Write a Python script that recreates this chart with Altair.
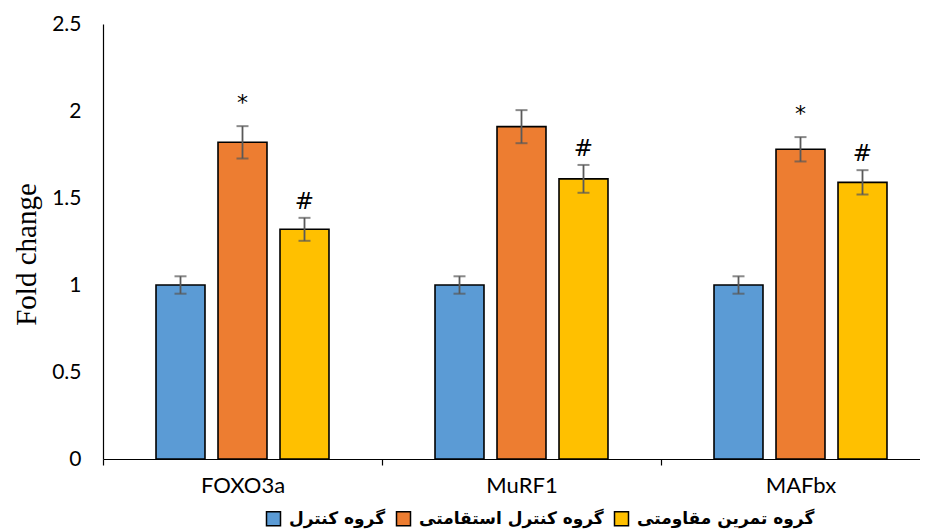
import altair as alt
import pandas as pd

genes = ["FOXO3a", "MuRF1", "MAFbx"]
groups = ["گروه کنترل", "گروه کنترل استقامتی", "گروه تمرین مقاومتی"]
colors = ["#5B9BD5", "#ED7D31", "#FFC000"]

control_mean = [1.0, 1.0, 1.0]
control_se = [0.05, 0.05, 0.05]
endurance_mean = [1.82, 1.91, 1.78]
endurance_se = [0.093, 0.095, 0.07]
resistance_mean = [1.32, 1.61, 1.59]
resistance_se = [0.066, 0.08, 0.07]
control_sig = ["", "", ""]
endurance_sig = ["*", "", "*"]
resistance_sig = ["#", "#", "#"]

y_ticks = [0, 0.5, 1, 1.5, 2, 2.5]

rows = []
for grp, means, ses, sigs in zip(
    groups,
    [control_mean, endurance_mean, resistance_mean],
    [control_se, endurance_se, resistance_se],
    [control_sig, endurance_sig, resistance_sig],
):
    for gene, m, s, sig in zip(genes, means, ses, sigs):
        rows.append(dict(gene=gene, group=grp, mean=m, lo=m - s, hi=m + s, sig=sig))
df = pd.DataFrame(rows)

x = alt.X(
    "gene:N",
    sort=genes,
    scale=alt.Scale(range=[0, 837], paddingInner=0, paddingOuter=0),
    axis=alt.Axis(
        title=None, labelAngle=0, tickBand="extent", domainColor="black",
        tickColor="black", tickSize=6, labelFont="Lato", labelFontSize=22,
        labelColor="black", labelPadding=10, domainWidth=1.2, tickWidth=1.2,
    ),
)
xo = alt.XOffset("group:N", sort=groups, scale=alt.Scale(paddingInner=0.21, paddingOuter=0.855))

base = alt.Chart(df)

bars = base.mark_bar(stroke="black", strokeWidth=1.6).encode(
    x=x,
    xOffset=xo,
    y=alt.Y(
        "mean:Q",
        scale=alt.Scale(domain=[0, 2.5], nice=False),
        axis=alt.Axis(
            values=y_ticks, format="~g", ticks=False, grid=False,
            domainColor="black", domainWidth=1.2, labelFont="Lato",
            labelFontSize=21, labelColor="black", labelPadding=22,
            title="Fold change", titleFont="Liberation Serif", titleFontSize=29,
            titleFontWeight="normal", titleColor="black", titlePadding=10,
            titleY=230,
        ),
    ),
    color=alt.Color(
        "group:N",
        scale=alt.Scale(domain=groups, range=colors),
        legend=alt.Legend(
            title=None, orient="none", legendX=162, legendY=486,
            direction="horizontal", symbolType="square", symbolSize=196,
            symbolStrokeColor="black", symbolStrokeWidth=1.5,
            labelFont="DejaVu Sans", labelFontSize=17, labelFontWeight="bold",
            labelColor="black", columnPadding=7, labelOffset=7, labelLimit=400,
        ),
    ),
)

err = base.mark_rule(color="#595959", strokeWidth=1.8).encode(
    x=x, xOffset=xo, y="lo:Q", y2="hi:Q"
)
cap_hi = base.mark_tick(color="#595959", thickness=2, size=12).encode(
    x=x, xOffset=xo, y="hi:Q"
)
cap_lo = base.mark_tick(color="#595959", thickness=2, size=12).encode(
    x=x, xOffset=xo, y="lo:Q"
)
star = base.transform_filter(alt.datum.sig == "*").mark_text(
    fontSize=22, dy=-16, baseline="alphabetic", font="DejaVu Sans", color="black"
).encode(x=x, xOffset=xo, y="hi:Q", text="sig:N")
hash_ = base.transform_filter(alt.datum.sig == "#").mark_text(
    fontSize=23, dy=-9, baseline="alphabetic", font="DejaVu Sans", color="black"
).encode(x=x, xOffset=xo, y="hi:Q", text="sig:N")

chart = (
    alt.layer(bars, err, cap_hi, cap_lo, star, hash_)
    .properties(
        width=817, height=435,
        autosize=alt.AutoSizeParams(type="none"),
        padding={"left": 95, "top": 16, "right": 0, "bottom": 72},
    )
    .configure_view(stroke=None)
)

chart.save("out.html", embed_options={"renderer": "svg", "actions": False})
